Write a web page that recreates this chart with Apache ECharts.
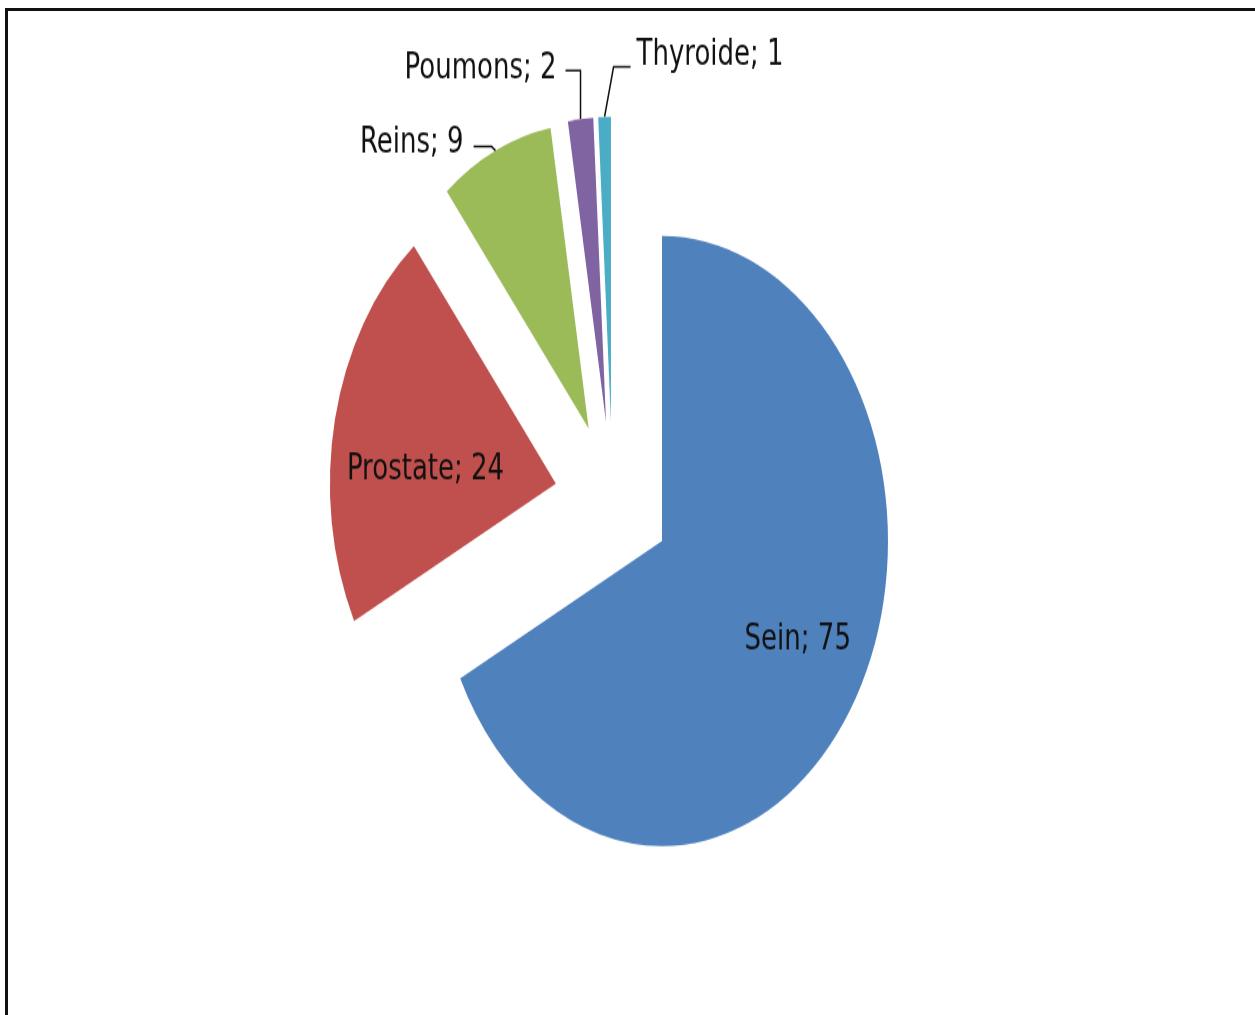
<!DOCTYPE html>
<html><head><meta charset="utf-8">
<script src="https://cdn.jsdelivr.net/npm/echarts@6/dist/echarts.min.js"></script>
<style>
html,body{margin:0;padding:0;background:#fff;width:1255px;height:1015px;overflow:hidden;}
#frame{position:absolute;left:5px;top:8px;right:-10px;bottom:-10px;border-top:3px solid #111;border-left:3px solid #111;}
#chart{position:absolute;left:0;top:0;width:1255px;height:752px;transform:scaleY(1.35);transform-origin:0 0;}
</style></head><body>
<div id="frame"></div>
<div id="chart"></div>
<script>
const categories = ['Sein', 'Prostate', 'Reins', 'Poumons', 'Thyroide'];
const values = [75, 24, 9, 2, 1];
const colors = ['#4F81BD', '#C0504D', '#9BBB59', '#8064A2', '#4BACC6'];

// label placement tweaks (style only)
const insideShift = { 0: { dx: 37, dy: 13 }, 1: { dx: -17, dy: 15 } };
const guideShape = {
  2: { bend: [-4, -3], run: -18, gap: -10, dy: -2, align: 'right' },
  3: { bend: [0, -36], run: -15, gap: -9, dy: -1, align: 'right' },
  4: { bend: [9, -37], run: 17, gap: 6, dy: -8.5, align: 'left' }
};
const labelDistance = 5;

const chart = echarts.init(document.getElementById('chart'), null, { renderer: 'canvas' });
chart.setOption({
  animation: false,
  backgroundColor: 'transparent',
  series: [{
    type: 'pie',
    center: [612.6, 370.4],
    radius: 226,
    startAngle: 90,
    clockwise: true,
    selectedMode: 'multiple',
    selectedOffset: 58,
    avoidLabelOverlap: false,
    emphasis: { disabled: true },
    label: { show: true, formatter: '{b}; {c}', fontFamily: 'DejaVu Sans', fontSize: 26, color: '#111', distanceToLabelLine: labelDistance },
    labelLine: { lineStyle: { color: '#111', width: 1.5 } },
    labelLayout: function (p) {
      const i = p.dataIndex;
      if (insideShift[i]) return insideShift[i];
      const g = guideShape[i];
      if (!g || !p.labelLinePoints) return {};
      const pts = p.labelLinePoints;
      const a = pts[0];
      const last = pts[pts.length - 1];
      const defX = last[0] + (last[0] < a[0] ? -labelDistance : labelDistance);
      const defY = last[1];
      const b = [a[0] + g.bend[0], a[1] + g.bend[1]];
      const c = [b[0] + g.run, b[1]];
      return {
        dx: c[0] + g.gap - defX,
        dy: c[1] + g.dy - defY,
        align: g.align,
        verticalAlign: 'middle',
        labelLinePoints: [a, b, c]
      };
    },
    data: categories.map(function (n, i) {
      return {
        name: n, value: values[i], selected: true,
        itemStyle: { color: colors[i] },
        label: { position: i < 2 ? 'inside' : 'outside' },
        labelLine: { show: i >= 2, length: 10, length2: 10 }
      };
    })
  }]
});
</script>
</body></html>
